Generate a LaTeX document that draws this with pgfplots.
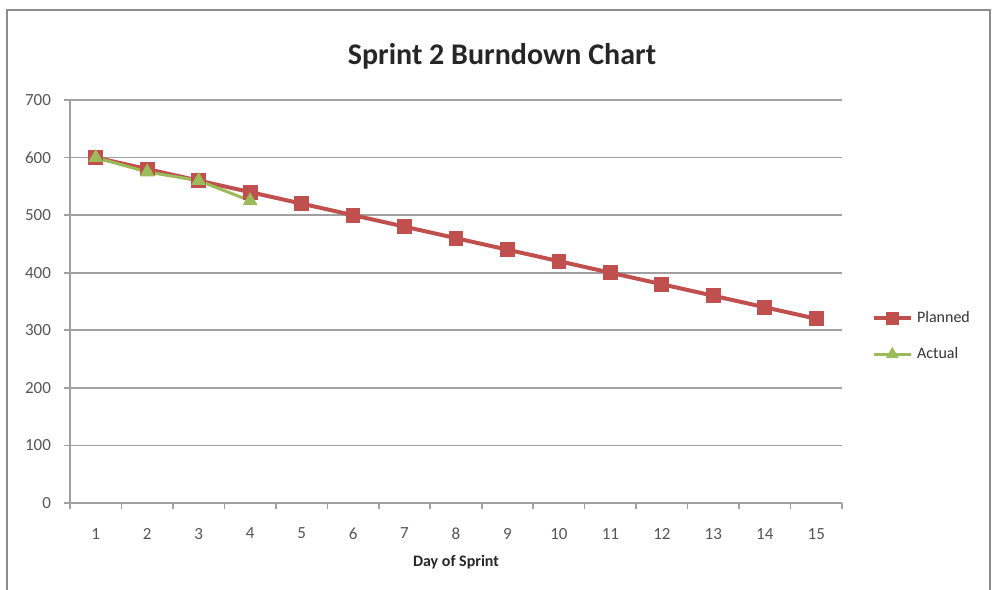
\documentclass[border=0pt]{standalone}
\usepackage{fontspec}
\setmainfont{Carlito}
\usepackage{pgfplots}
\pgfplotsset{compat=1.18}
\definecolor{planned}{RGB}{192,80,77}
\definecolor{actual}{RGB}{155,187,89}
\definecolor{gridc}{RGB}{160,160,160}
\definecolor{tickc}{RGB}{85,85,85}
\begin{document}
\begin{tikzpicture}
\path[use as bounding box] (0,0) rectangle (496.5pt,295pt);
\begin{scope}
\clip (0,0) rectangle (496.5pt,295pt);
\draw[black!45,line width=0.8pt] (3.5pt,-5pt) rectangle (495pt,290pt);
\end{scope}
\node[font=\bfseries\fontsize{15}{17}\selectfont, text=black!85] at (251pt,267pt) {Sprint 2 Burndown Chart};
\begin{axis}[
  at={(35pt,43.5pt)}, anchor=south west,
  scale only axis, width=386pt, height=201.5pt,
  xmin=0.5, xmax=15.5, ymin=0, ymax=700,
  axis lines=left, axis line style={-, gridc, line width=0.8pt},
  xtick={1,...,15}, minor xtick={0.5,1.5,...,15.5},
  ytick={0,100,...,700},
  major x tick style={draw=none},
  minor x tick style={gridc, line width=0.8pt},
  minor tick length=3pt,
  y tick style={gridc, line width=0.8pt},
  major tick length=3pt,
  tick align=outside,
  ymajorgrids, major grid style={gridc, line width=0.8pt},
  tick label style={font=\fontsize{8.5}{9}\selectfont, text=tickc},
  /pgf/number format/assume math mode=true,
  x tick label style={yshift=-6pt},
  y tick label style={xshift=-3pt},
  xlabel={\textbf{Day of Sprint}},
  xlabel style={font=\fontsize{8}{9}\selectfont, text=black!85, yshift=-1pt},
  legend style={at={(1.03,0.414)}, anchor=west, draw=none, fill=none,
    font=\fontsize{8}{9}\selectfont, text=black!80, row sep=7pt},
  legend cell align=left,
  legend image code/.code={\draw[mark repeat=2,mark phase=2, mark size=2.2pt] plot coordinates {(0cm,0cm)(0.33cm,0cm)(0.66cm,0cm)};},
]
\addplot[planned, line width=2pt, mark=square*, mark size=2.7pt, mark options={solid, fill=planned}] coordinates {
(1,600)(2,580)(3,560)(4,540)(5,520)(6,500)(7,480)(8,460)(9,440)(10,420)(11,400)(12,380)(13,360)(14,340)(15,320)};
\addlegendentry{Planned}
\addplot[actual, line width=1.5pt, mark=triangle*, mark size=2.8pt, mark options={solid, fill=actual}] coordinates {
(1,600)(2,575)(3,560)(4,525)};
\addlegendentry{Actual}
\end{axis}
\end{tikzpicture}
\end{document}
